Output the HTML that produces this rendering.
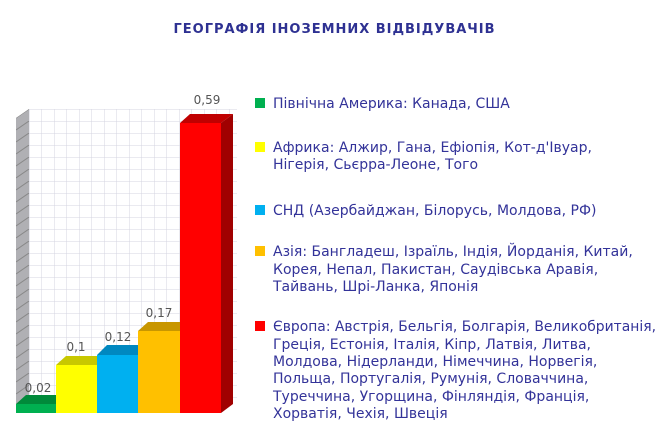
<!DOCTYPE html>
<html><head><meta charset="utf-8"><style>
html,body{margin:0;padding:0;background:#fff;}
svg{display:block}
text{font-family:"DejaVu Sans","Liberation Sans",sans-serif;}
</style></head><body>
<svg width="670" height="441" viewBox="0 0 670 441" xmlns="http://www.w3.org/2000/svg">
<defs>
<pattern id="g" x="29" y="109" width="12.5" height="12" patternUnits="userSpaceOnUse">
<path d="M0 0H12.5M0 0V12" stroke="#d4d4e0" stroke-width="1" fill="none"/>
</pattern>
<pattern id="w" x="16" y="109" width="13" height="12" patternUnits="userSpaceOnUse">
<path d="M0 9L13 0" stroke="#888" stroke-width="1"/>
</pattern>
</defs>
<text x="334" y="33" text-anchor="middle" font-size="13" font-weight="bold" fill="#2e3192" textLength="321">ГЕОГРАФІЯ ІНОЗЕМНИХ ВІДВІДУВАЧІВ</text>
<rect x="29" y="109" width="208" height="296" fill="url(#g)"/>
<polygon points="16,118 29,109 29,404 16,413" fill="#b0b0b4"/>
<polygon points="16,118 29,109 29,404 16,413" fill="url(#w)"/>
<polygon points="16,404 26,395 66,395 56,404" fill="#008a3a"/>
<rect x="16" y="404" width="40" height="9" fill="#00b050"/>
<polygon points="56,365 66,356 107,356 97,365" fill="#c8c800"/>
<rect x="56" y="365" width="41" height="48" fill="#ffff00"/>
<polygon points="97,355 107,345 148,345 138,355" fill="#0088c0"/>
<rect x="97" y="355" width="41" height="58" fill="#00b0f0"/>
<polygon points="138,331 148,322 190,322 180,331" fill="#c89600"/>
<rect x="138" y="331" width="42" height="82" fill="#ffc000"/>
<polygon points="180,123 190,114 233,114 221,123" fill="#c00000"/>
<polygon points="221,123 233,114 233,404 221,413" fill="#a00000"/>
<rect x="180" y="123" width="41" height="290" fill="#ff0000"/>
<g font-size="12" fill="#555" text-anchor="middle">
<text x="38" y="392">0,02</text>
<text x="76" y="351">0,1</text>
<text x="118" y="341">0,12</text>
<text x="159" y="317">0,17</text>
<text x="207" y="104">0,59</text>
</g>
<g font-size="14" fill="#333399">
<rect x="255" y="98" width="10" height="10" fill="#00b050"/>
<text x="273" y="108">Північна Америка: Канада, США</text>
<rect x="255" y="142" width="10" height="10" fill="#ffff00"/>
<text x="273" y="152">Африка: Алжир, Гана, Ефіопія, Кот-д'Івуар,</text>
<text x="273" y="169">Нігерія, Сьєрра-Леоне, Того</text>
<rect x="255" y="205" width="10" height="10" fill="#00b0f0"/>
<text x="273" y="215">СНД (Азербайджан, Білорусь, Молдова, РФ)</text>
<rect x="255" y="246" width="10" height="10" fill="#ffc000"/>
<text x="273" y="256">Азія: Бангладеш, Ізраїль, Індія, Йорданія, Китай,</text>
<text x="273" y="274">Корея, Непал, Пакистан, Саудівська Аравія,</text>
<text x="273" y="291">Тайвань, Шрі-Ланка, Японія</text>
<rect x="255" y="321" width="10" height="10" fill="#ff0000"/>
<text x="273" y="331" textLength="383" lengthAdjust="spacingAndGlyphs">Європа: Австрія, Бельгія, Болгарія, Великобританія,</text>
<text x="273" y="349">Греція, Естонія, Італія, Кіпр, Латвія, Литва,</text>
<text x="273" y="366">Молдова, Нідерланди, Німеччина, Норвегія,</text>
<text x="273" y="383">Польща, Португалія, Румунія, Словаччина,</text>
<text x="273" y="401">Туреччина, Угорщина, Фінляндія, Франція,</text>
<text x="273" y="418">Хорватія, Чехія, Швеція</text>
</g>
</svg>
</body></html>
